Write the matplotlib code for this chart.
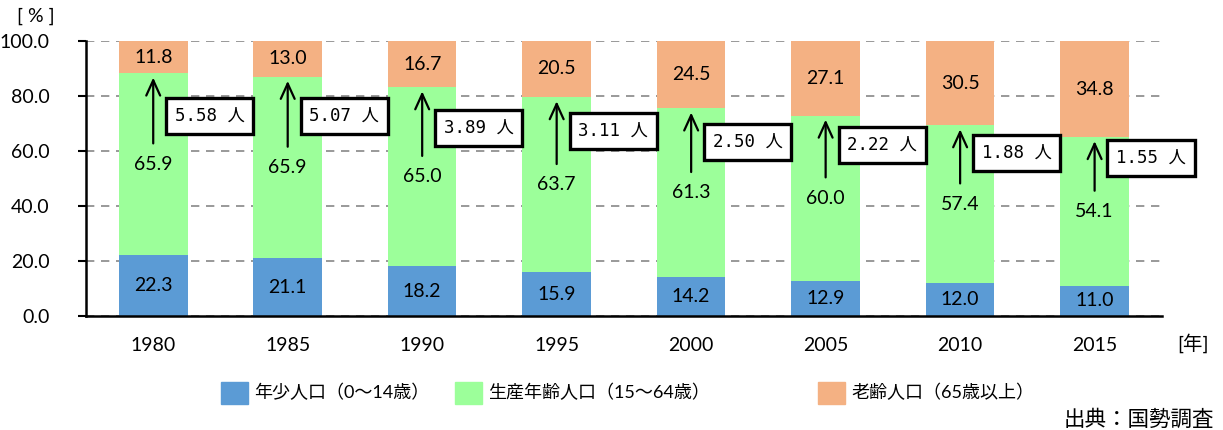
import matplotlib
matplotlib.use("Agg")
import matplotlib.pyplot as plt
from matplotlib.patches import Patch

plt.rcParams['font.family'] = ['Lato', 'Noto Sans CJK JP', 'DejaVu Sans']

years = ['1980', '1985', '1990', '1995', '2000', '2005', '2010', '2015']
young = [22.3, 21.1, 18.2, 15.9, 14.2, 12.9, 12.0, 11.0]
working = [65.9, 65.9, 65.0, 63.7, 61.3, 60.0, 57.4, 54.1]
elderly = [11.8, 13.0, 16.7, 20.5, 24.5, 27.1, 30.5, 34.8]
ratio_labels = ['5.58', '5.07', '3.89', '3.11', '2.50', '2.22', '1.88', '1.55']
ratio_box_y = [72.7, 72.7, 68.4, 67.3, 63.3, 62.2, 59.3, 57.5]
legend_labels = ['年少人口（0～14歳）', '生産年齢人口（15～64歳）', '老齢人口（65歳以上）']

c_young = '#5B9BD5'
c_work = '#9CFF9A'
c_old = '#F4B183'

fig = plt.figure(figsize=(12.23, 4.30), dpi=100)
ax = fig.add_axes([0.0703, 0.265, 0.8797, 0.6397])

x = list(range(len(years)))
w = 0.51
ax.bar(x, young, width=w, color=c_young, zorder=2)
ax.bar(x, working, width=w, bottom=young, color=c_work, zorder=2)
bot2 = [a + b for a, b in zip(young, working)]
ax.bar(x, elderly, width=w, bottom=bot2, color=c_old, zorder=2)

fs = 14
for i in x:
    ax.text(i, young[i] / 2, f'{young[i]:.1f}', ha='center', va='center', fontsize=fs, zorder=4)
    ym = young[i] + working[i] / 2
    ax.text(i, ym, f'{working[i]:.1f}', ha='center', va='center', fontsize=fs, zorder=4)
    ax.text(i, bot2[i] + elderly[i] / 2, f'{elderly[i]:.1f}', ha='center', va='center', fontsize=fs, zorder=4)
    ax.annotate('', xy=(i, bot2[i] - 0.5), xytext=(i, ym + 6.5),
                arrowprops=dict(arrowstyle='->,head_length=1.1,head_width=0.5', color='black', lw=1.6),
                zorder=5)
    ax.text(i + 0.42, ratio_box_y[i], f'{ratio_labels[i]} 人', ha='center', va='center',
            fontsize=12.5, family=['DejaVu Sans Mono', 'Noto Sans CJK JP'], zorder=6,
            bbox=dict(boxstyle='square,pad=0.5', fc='white', ec='black', lw=2.4))

ax.set_xlim(-0.5, 7.5)
ax.set_ylim(0, 100)
ax.set_yticks([0, 20, 40, 60, 80, 100])
ax.set_yticklabels([f'{v:.1f}' for v in [0, 20, 40, 60, 80, 100]], fontsize=fs)
ax.set_xticks(x)
ax.set_xticklabels(years, fontsize=fs)
ax.tick_params(axis='x', length=0, pad=15)
ax.tick_params(axis='y', length=6, width=1.5, direction='out', pad=20)
ax.yaxis.grid(True, linestyle=(0, (5, 4)), color='#888888', lw=1.2, zorder=0)
ax.set_axisbelow(True)
for s in ['top', 'right']:
    ax.spines[s].set_visible(False)
ax.spines['left'].set_linewidth(1.8)
ax.spines['bottom'].set_linewidth(1.8)

fig.text(0.014, 0.962, '[ % ]', fontsize=14, ha='left', va='center')
fig.text(0.963, 0.203, '[年]', fontsize=14, ha='left', va='center')
fig.text(0.993, 0.025, '出典：国勢調査', fontsize=15.5, ha='right', va='center')

colors = [c_young, c_work, c_old]
lefts = [221 / 1223, 455 / 1223, 818 / 1223]
for lab, col, lx in zip(legend_labels, colors, lefts):
    leg = fig.legend(handles=[Patch(color=col, label=lab)], loc='center left',
                     bbox_to_anchor=(lx, 0.087), frameon=False, fontsize=13,
                     handlelength=1.5, handleheight=1.5, handletextpad=0.35,
                     borderpad=0, borderaxespad=0)

fig.savefig('out.png', dpi=100)
